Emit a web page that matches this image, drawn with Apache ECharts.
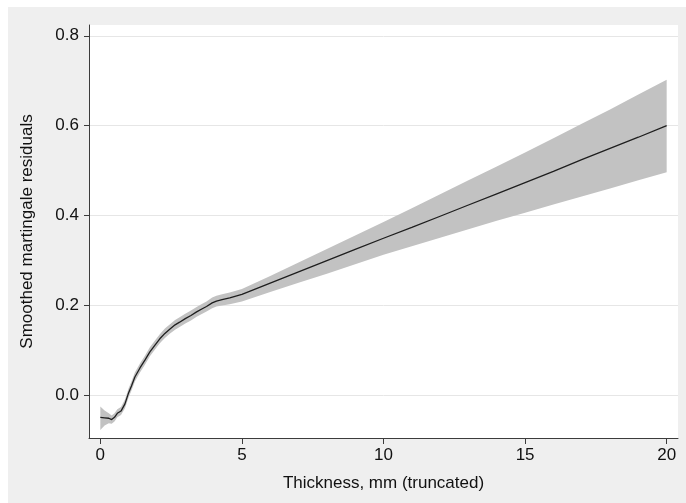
<!DOCTYPE html>
<html>
<head>
<meta charset="utf-8">
<script src="https://cdn.jsdelivr.net/npm/echarts@6/dist/echarts.min.js"></script>
<style>
  body { margin: 0; background: #fff; }
  #bg { position: absolute; left: 8px; top: 7px; width: 678px; height: 496px; background: #efefef; }
  #main { position: absolute; left: 0; top: 0; width: 686px; height: 503px; }
</style>
</head>
<body>
<div id="bg"></div>
<div id="main"></div>
<script>
// thickness values (mm, truncated)
var thickness = [0, 0.15, 0.3, 0.4, 0.5, 0.6, 0.73, 0.87, 1.0, 1.1, 1.22, 1.4, 1.58, 1.75, 1.93,
  2.1, 2.28, 2.45, 2.64, 2.8, 3.0, 3.2, 3.4, 3.6, 3.75, 3.95, 4.1, 4.3, 4.57, 5,
  6, 7, 8, 9, 10, 11, 12, 13, 14, 15, 16, 17, 18, 19, 20]
// smoothed martingale residuals
var smooth = [-0.050, -0.051, -0.052, -0.055, -0.050, -0.041, -0.036, -0.020, 0.005, 0.020,
  0.040, 0.060, 0.078, 0.096, 0.111, 0.125, 0.137, 0.146, 0.156, 0.162, 0.170, 0.177,
  0.185, 0.192, 0.197, 0.205, 0.209, 0.212, 0.216, 0.224,
  0.249, 0.274, 0.299, 0.324, 0.349, 0.373, 0.398, 0.423, 0.448, 0.473, 0.498, 0.524,
  0.549, 0.574, 0.600]
// confidence band
var lower = [-0.078, -0.068, -0.063, -0.064, -0.059, -0.050, -0.045, -0.030, -0.005, 0.010,
  0.030, 0.050, 0.068, 0.086, 0.101, 0.115, 0.127, 0.136, 0.145, 0.151, 0.159, 0.166,
  0.174, 0.181, 0.186, 0.193, 0.197, 0.199, 0.202, 0.208,
  0.229, 0.250, 0.270, 0.291, 0.312, 0.331, 0.350, 0.369, 0.388, 0.406, 0.424, 0.442,
  0.460, 0.478, 0.496]
var upper = [-0.026, -0.035, -0.041, -0.046, -0.041, -0.032, -0.027, -0.010, 0.015, 0.030,
  0.050, 0.070, 0.088, 0.106, 0.121, 0.135, 0.148, 0.157, 0.167, 0.173, 0.181, 0.188,
  0.196, 0.203, 0.208, 0.217, 0.221, 0.224, 0.228, 0.236,
  0.265, 0.295, 0.325, 0.355, 0.385, 0.416, 0.447, 0.478, 0.509, 0.540, 0.572, 0.604,
  0.636, 0.669, 0.702]
var xTicks = [0, 5, 10, 15, 20]
var yTicks = [0, 0.2, 0.4, 0.6, 0.8]

var fitData = []
for (var i = 0; i < thickness.length; i++) {
  fitData.push([thickness[i], smooth[i]])
}

var chart = echarts.init(document.getElementById('main'))
var font = '"Liberation Sans", Arial, Helvetica, sans-serif'
var axisCol = '#3c3c3c'

// CI band drawn as one polygon: upper edge forwards, lower edge backwards
function renderBand(params, api) {
  var pts = []
  for (var i = 0; i < thickness.length; i++) pts.push(api.coord([thickness[i], upper[i]]))
  for (var j = thickness.length - 1; j >= 0; j--) pts.push(api.coord([thickness[j], lower[j]]))
  return {
    type: 'polygon',
    shape: { points: pts },
    style: { fill: '#c2c2c2', stroke: null }
  }
}

chart.setOption({
  animation: false,
  backgroundColor: 'transparent',
  grid: {
    left: 89,
    right: 8,
    top: 25,
    bottom: 65,
    show: true,
    backgroundColor: '#fff',
    borderWidth: 0
  },
  xAxis: {
    type: 'value',
    min: -0.4,
    max: 20.4,
    name: 'Thickness, mm (truncated)',
    nameLocation: 'middle',
    nameGap: 37,
    nameTextStyle: { fontFamily: font, fontSize: 17, color: '#111' },
    axisLine: { show: true, onZero: false, lineStyle: { color: axisCol, width: 1 } },
    axisTick: { show: true, length: 6, customValues: xTicks, lineStyle: { color: axisCol } },
    axisLabel: { customValues: xTicks, margin: 9, fontFamily: font, fontSize: 17, color: '#111' },
    splitLine: { show: false }
  },
  yAxis: {
    type: 'value',
    min: -0.096,
    max: 0.824,
    name: 'Smoothed martingale residuals',
    nameLocation: 'middle',
    nameGap: 53,
    nameTextStyle: { fontFamily: font, fontSize: 17, color: '#111' },
    axisLine: { show: true, onZero: false, lineStyle: { color: axisCol, width: 1 } },
    axisTick: { show: true, length: 5, customValues: yTicks, lineStyle: { color: axisCol } },
    axisLabel: {
      customValues: yTicks,
      margin: 10,
      fontFamily: font,
      fontSize: 17,
      color: '#111',
      formatter: function (v) { return v.toFixed(1) }
    },
    splitLine: { show: true, lineStyle: { color: '#e6e6e6', width: 1 } }
  },
  series: [
    {
      name: 'band',
      type: 'custom',
      data: [[0, 0]],
      renderItem: renderBand,
      silent: true,
      z: 2
    },
    {
      name: 'smooth',
      type: 'line',
      data: fitData,
      symbol: 'none',
      z: 5,
      lineStyle: { color: '#1e1e1e', width: 1.3 }
    }
  ]
})
</script>
</body>
</html>
